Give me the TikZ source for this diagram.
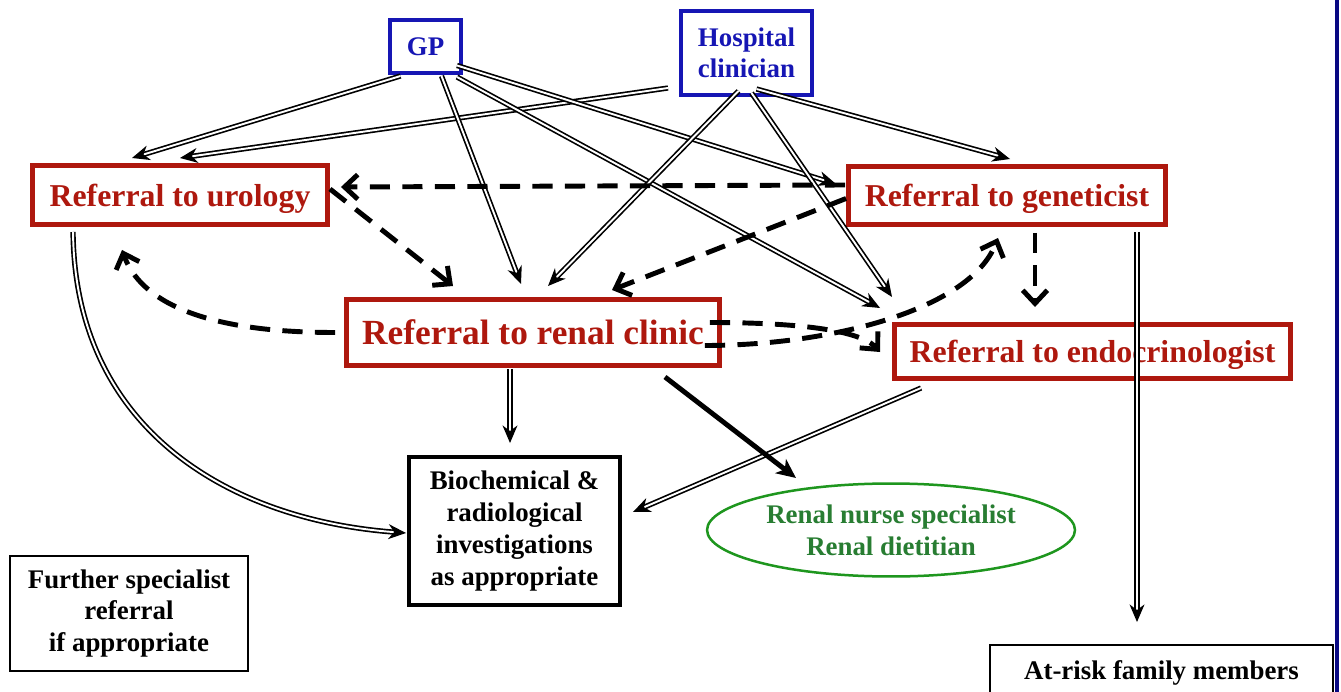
\documentclass[tikz,border=0pt]{standalone}
\usepackage{fontspec}
\setmainfont{Liberation Serif}
\usetikzlibrary{arrows.meta,calc,shapes.geometric}
\definecolor{boxred}{RGB}{174,24,14}
\definecolor{boxblue}{RGB}{22,22,180}
\definecolor{navyline}{RGB}{8,8,130}
\definecolor{ellgreen}{RGB}{30,150,30}
\definecolor{txtgreen}{RGB}{40,125,50}
\begin{document}
\begin{tikzpicture}[x=0.02cm,y=-0.02cm,
  bluebox/.style={draw=boxblue, line width=0.08cm, text=boxblue, font=\fontsize{15.3}{17.6}\selectfont\bfseries, align=center, inner sep=0pt, outer sep=0pt},
  redbox/.style={draw=boxred, line width=0.1cm, text=boxred, font=\fontsize{18.1}{21}\selectfont\bfseries, text depth=0pt, inner sep=0pt, outer sep=0pt},
  blackbox/.style={draw=black, text=black, font=\fontsize{15.3}{18.1}\selectfont\bfseries, align=center, inner sep=0pt, outer sep=0pt},
  greenell/.style={ellipse, draw=ellgreen, line width=0.05cm, text=txtgreen, font=\fontsize{15.3}{18.1}\selectfont\bfseries, align=center, inner sep=0pt, outer sep=0pt},
  dbl/.style={draw=black, double=white, double distance=1.1pt, line width=0.95pt},
  dblarrow/.style={dbl, -{Stealth[length=10pt,width=8.5pt,inset=3.2pt]}},
  thickarrow/.style={draw=black, line width=2.8pt, -{Stealth[length=11pt,width=10pt,inset=3pt]}},
  dasharrow/.style={draw=black, line width=2.8pt, dash pattern=on 11.5pt off 7pt, -{Straight Barb[length=7.5pt,width=14pt]}}
]
\fill[white] (0,0) rectangle (1341,692);
\useasboundingbox (0,0) rectangle (1341,692);

% nodes
\node[bluebox, minimum width=1.42cm, minimum height=1.06cm] (gp) at (425.5,46.5) {GP};
\node[bluebox, minimum width=2.62cm, minimum height=1.68cm] (hosp) at (746.5,53) {Hospital\\clinician};
\node[redbox, minimum width=5.92cm, minimum height=1.2cm] (uro) at (180,195) {Referral to urology};
\node[redbox, minimum width=6.36cm, minimum height=1.18cm] (gen) at (1007,195.5) {Referral to geneticist};
\node[redbox, minimum width=7.48cm, minimum height=1.34cm, font=\fontsize{20.1}{24}\selectfont\bfseries] (renal) at (533,332.5) {Referral to renal clinic};
\node[redbox, minimum width=7.94cm, minimum height=1.1cm] (endo) at (1092.5,351.5) {Referral to endocrinologist};
\node[blackbox, line width=0.08cm, minimum width=4.22cm, minimum height=2.96cm] (bio) at (514.5,531) {Biochemical \&\\radiological\\investigations\\as appropriate};
\node[greenell, minimum width=7.36cm, minimum height=1.86cm] (ell) at (891,530) {Renal nurse specialist\\Renal dietitian};
\node[blackbox, line width=0.03cm, minimum width=4.76cm, minimum height=2.3cm] (further) at (129,613.5) {Further specialist\\referral\\if appropriate};
\node[blackbox, line width=0.05cm, minimum width=6.86cm, minimum height=1.1cm] (atrisk) at (1161.5,672.5) {At-risk family members};

% right border line
\draw[navyline, line width=0.08cm] (1337,0) -- (1337,692);

% double connectors
\draw[dblarrow] ($(gp.south)+(-25,3)$) -- ($(uro.north)+(-48,-7)$);
\draw[dblarrow] ($(hosp.west)+(-13,35)$) -- ($(uro.north)+(0,-7)$);
\draw[dblarrow] ($(gp.south)+(16,3)$) -- ($(renal.north)+(-12,-15)$);
\draw[dblarrow] ($(gp.east)+(-4,19)$) -- ($(gen.west)+(-12,-11.5)$);
\draw[dblarrow] ($(gp.south east)+(-4,4)$) -- ($(endo.north west)+(-14,-16)$);
\draw[dblarrow] ($(hosp.south)+(-8,-4)$) -- ($(renal.north)+(15,-13)$);
\draw[dblarrow] ($(hosp.south)+(10,-6)$) -- ($(gen.north)+(3,-7)$);
\draw[dblarrow] ($(hosp.south)+(5,-2)$) -- ($(endo.north west)+(-2,-27)$);
\draw[dblarrow] ($(gen.south)+(130,7)$) -- ($(atrisk.north)+(-24.5,-23)$);
\draw[dblarrow] ($(uro.south west)+(41,7)$) .. controls +(2,198) and +(-176,-13) .. ($(bio.west)+(-3,2)$);
\draw[dblarrow] ($(renal.south)+(-23,3)$) -- ($(bio.north)+(-4.5,-14)$);
\draw[dblarrow] ($(endo.south west)+(27,9)$) -- ($(bio.east)+(13,-19)$);
\draw[thickarrow] ($(renal.south east)+(-55,11)$) -- ($(ell.center)+(-95,-52)$);

% dashed connectors
\draw[dasharrow] ($(gen.west)+(-3,-10.5)$) -- ($(uro.east)+(13,-8)$);
\draw[dasharrow] ($(uro.east)+(2,-6)$) -- ($(renal.north)+(-80,-13)$);
\draw[dasharrow] ($(gen.west)+(-2,3)$) -- ($(renal.north)+(79,-9)$);
\draw[dasharrow] ($(renal.west)+(-11,0)$) .. controls +(-135,0) and +(18,50) .. ($(uro.south west)+(90,25)$);
\draw[dasharrow] ($(renal.east)+(-15,13)$) .. controls +(125,0) and +(-28,72) .. ($(gen.south)+(-9,13)$);
\draw[dasharrow] ($(renal.east)+(-10,-10)$) .. controls +(87,0) and +(-20,-22) .. ($(endo.north west)+(-14,28)$);
\draw[dasharrow] ($(gen.south)+(28,8)$) -- ($(endo.north)+(-57.5,-17)$);
\end{tikzpicture}
\end{document}
